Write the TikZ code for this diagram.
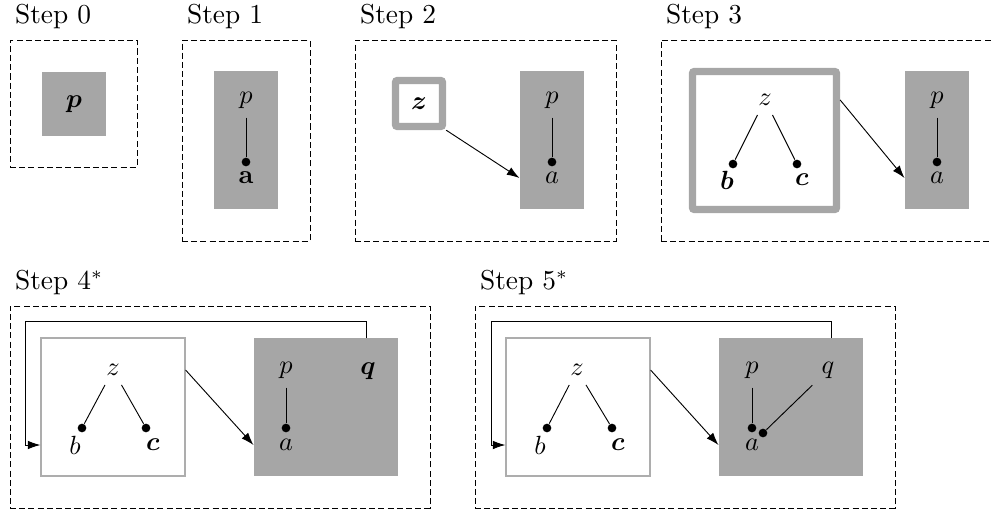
\documentclass[tikz,border=0pt]{standalone}
\usepackage{bm}
\usetikzlibrary{arrows.meta,calc}
\def\pxu{0.38pt}
\definecolor{boxgray}{gray}{0.65}
\definecolor{thingray}{gray}{0.68}
\tikzset{
  sz/.style 2 args={minimum width=#1*\pxu, minimum height=#2*\pxu, inner sep=0pt},
  frame/.style={draw, dash pattern=on 2.3pt off 1.2pt, line width=0.35pt},
  graybox/.style={fill=boxgray},
  thickbox/.style={draw=boxgray, line width=2.8pt, rounded corners=0.8pt, fill=white},
  thinbox/.style={draw=thingray, line width=0.45pt, fill=white},
  dot/.style={circle, fill=black, minimum size=3.3pt, inner sep=0pt},
  lbl/.style={anchor=base west, inner sep=0pt},
  arr/.style={-{Latex[length=4.8pt,width=3.3pt]}, line width=0.35pt},
  edge/.style={line width=0.35pt},
}
\begin{document}
\begin{tikzpicture}[x=\pxu, y=-\pxu, font=\fontsize{10.4}{12.5}\selectfont]
\useasboundingbox (0,0) rectangle (992,510);
\clip (0,0) rectangle (992,510);

% Step 0
\node[frame, sz={127}{127}] (f0) at (73.5,103.5) {};
\node[lbl] (s0) at ($(f0.north west)+(5,-16)$) {Step 0};
\node[graybox, sz={64}{64}] (g0) at (74,104) {$\bm{p}$};

% Step 1
\node[frame, sz={128}{201}] (f1) at (246,140.5) {};
\node[lbl] (s1) at ($(f1.north west)+(5,-16)$) {Step 1};
\node[graybox, sz={64}{138}] (g1) at (246,140) {};
\node (p1) at (246,100) {$p$};
\node[dot] (d1) at (246,162) {};
\node (a1) at (246,178) {$\mathbf{a}$};
\draw[edge] (p1) -- (d1);

% Step 2
\node[frame, sz={261}{201}] (f2) at (485.5,140.5) {};
\node[lbl] (s2) at ($(f2.north west)+(5,-16)$) {Step 2};
\node[thickbox, sz={47}{46}] (z2) at (419,103.5) {$\bm{z}$};
\node[graybox, sz={64}{138}] (g2) at (552,140) {};
\node (p2) at (552,100) {$p$};
\node[dot] (d2) at (552,162) {};
\node (a2) at (552,178) {$a$};
\draw[edge] (p2) -- (d2);
\draw[arr] (z2.south east) -- (g2.west |- a2);

% Step 3
\node[frame, sz={336}{201}] (f3) at (829,140.5) {};
\node[lbl] (s3) at ($(f3.north west)+(5,-16)$) {Step 3};
\node[thickbox, sz={144}{138}] (w3) at (764.5,140.5) {};
\node (z3) at (765,100) {$z$};
\node[dot] (db3) at (733,164) {};
\node[dot] (dc3) at (797,164) {};
\node (b3) at (727,180) {$\bm{b}$};
\node (c3) at (802,180) {$\bm{c}$};
\draw[edge] (z3) -- (db3);
\draw[edge] (z3) -- (dc3);
\node[graybox, sz={64}{138}] (g3) at (937,140) {};
\node (p3) at (937,100) {$p$};
\node[dot] (d3) at (937,162) {};
\node (a3) at (937,178) {$a$};
\draw[edge] (p3) -- (d3);
\draw[arr] (w3.east |- z3) -- (g3.west |- a3);

% Step 4
\node[frame, sz={420}{202}] (f4) at (220,407) {};
\node[lbl] (s4) at ($(f4.north west)+(5,-16)$) {Step 4$^*$};
\node[thinbox, sz={144}{138}] (w4) at (113,407) {};
\node (z4) at (113,370) {$z$};
\node[dot] (db4) at (82,428) {};
\node[dot] (dc4) at (146,428) {};
\node (b4) at (75,445) {$b$};
\node (c4) at (153,445) {$\bm{c}$};
\draw[edge] (z4) -- (db4);
\draw[edge] (z4) -- (dc4);
\node[graybox, sz={144}{138}] (g4) at (326,407) {};
\node (p4) at (286,370) {$p$};
\node[dot] (d4) at (286,428) {};
\node (a4) at (286,445) {$a$};
\node (q4) at (368,371) {$\bm{q}$};
\draw[edge] (p4) -- (d4);
\draw[arr] (w4.east |- z4) -- (g4.west |- a4);
\coordinate (t4) at (366,338);
\coordinate (k4) at (25,321);
\draw[arr] (t4) |- (k4) |- (w4.west |- b4);

% Step 5
\node[frame, sz={420}{202}] (f5) at (685,407) {};
\node[lbl] (s5) at ($(f5.north west)+(5,-16)$) {Step 5$^*$};
\node[thinbox, sz={144}{138}] (w5) at (578,407) {};
\node (z5) at (577,370) {$z$};
\node[dot] (db5) at (547,428) {};
\node[dot] (dc5) at (612,428) {};
\node (b5) at (540,445) {$b$};
\node (c5) at (618,445) {$\bm{c}$};
\draw[edge] (z5) -- (db5);
\draw[edge] (z5) -- (dc5);
\node[graybox, sz={144}{138}] (g5) at (791,407) {};
\node (p5) at (752,370) {$p$};
\node[dot] (d5) at (752,428) {};
\node (q5) at (828,370) {$q$};
\node[dot] (dq5) at (763,433) {};
\node (a5) at (752,445) {$a$};
\draw[edge] (p5) -- (d5);
\draw[edge] (q5) -- (dq5);
\draw[arr] (w5.east |- z5) -- (g5.west |- a5);
\coordinate (t5) at (831,338);
\coordinate (k5) at (491,321);
\draw[arr] (t5) |- (k5) |- (w5.west |- b5);
\end{tikzpicture}
\end{document}
